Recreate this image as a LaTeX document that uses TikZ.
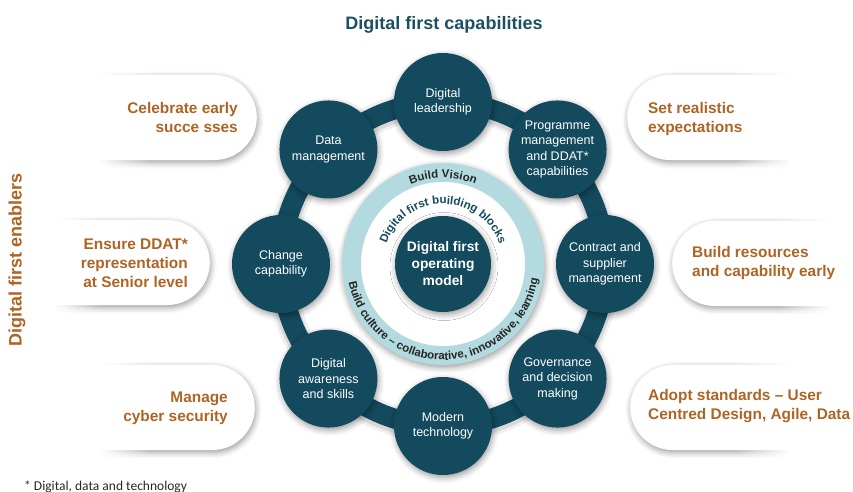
\documentclass[tikz,border=0pt]{standalone}
\usepackage{fontspec}
\setmainfont{Liberation Sans}
\newfontfamily\notefont{Carlito}
\usetikzlibrary{shapes.misc,shadows.blur,fadings,decorations.text}

\definecolor{petrol}{HTML}{134A5E}
\definecolor{mist}{HTML}{B3DADF}
\definecolor{amber}{HTML}{AE6424}
\definecolor{headblue}{HTML}{1C4F64}

\tikzset{
	soft/.style={blur shadow={shadow xshift=1pt, shadow yshift=-2.5pt, shadow blur radius=6pt, shadow opacity=40}},
	orb/.style={circle, fill=petrol, minimum size=98pt, inner sep=0pt, text=white, align=center, font=\fontsize{12.5}{15.5}\selectfont, soft},
	pillL/.style={rounded rectangle, rounded rectangle west arc=none, fill=white, minimum height=85pt, inner sep=0pt, soft},
	pillR/.style={rounded rectangle, rounded rectangle east arc=none, fill=white, minimum height=85pt, inner sep=0pt, soft},
	tip/.style={text=amber, font=\bfseries\fontsize{15.4}{19}\selectfont, inner sep=0pt},
	ringtext/.style 2 args={decorate, decoration={text along path, text align=center, text color=#1, text={|\bfseries\fontsize{11.5}{13}\selectfont|#2}}},
}

\begin{document}
\begin{tikzpicture}[x=1pt, y=1pt]
	\useasboundingbox (0,0) rectangle (853,-491);
	% white pills behind the enabler texts
	\node[pillL, minimum width=237pt, anchor=east] (celebrate) at (257,-117.5) {};
	\node[pillL, minimum width=200pt, anchor=east] (ensure) at (210,-262.5) {};
	\node[pillL, minimum width=235pt, anchor=east] (manage) at (255,-407.5) {};
	\node[pillR, minimum width=236pt, anchor=west] (realistic) at (627,-117.5) {};
	\node[pillR, minimum width=191pt, anchor=west] (resources) at (672,-263.5) {};
	\node[pillR, minimum width=233pt, anchor=west] (standards) at (630,-407.5) {};
	% let the far ends fade out
	\foreach \ya/\yb/\xa/\xb in {63/175/98/150, 208/320/55/100, 353/465/100/150} {
		\fill[white] (-10,-\ya) rectangle (\xa,-\yb);
		\fill[white, path fading=east] (\xa,-\ya) rectangle (\xb,-\yb);
	}
	\foreach \ya/\yb/\xa/\xb in {63/175/735/790, 208/320/780/830, 353/465/735/790} {
		\fill[white, path fading=west] (\xa,-\ya) rectangle (\xb,-\yb);
		\fill[white] (\xb,-\ya) rectangle (863,-\yb);
	}

	\coordinate (hub) at (443,-264);
	% band linking the capabilities
	\draw[black, opacity=.06, line width=30pt] ([yshift=-2pt]hub) circle[radius=162];
	\draw[black, opacity=.1, line width=24pt] ([yshift=-2pt]hub) circle[radius=162];
	\draw[petrol, line width=20pt] (hub) circle[radius=162];

	% building blocks ring
	\fill[mist, soft] (hub) circle[radius=101];
	\fill[white] (hub) circle[radius=82];
	\node[orb, minimum size=96pt, font=\bfseries\fontsize{13.8}{17}\selectfont] (core) at (hub) {Digital first\\operating\\model};

	\foreach \ang/\nm/\txt in {90/lead/{Digital\\leadership}, 45/prog/{Programme\\management\\and DDAT*\\capabilities}, 0/contract/{Contract and\\supplier\\management}, -45/gov/{Governance\\and decision\\making}, -90/modern/{Modern\\technology}, -135/aware/{Digital\\awareness\\and skills}, 180/change/{Change\\capability}, 135/data/{Data\\management}}
		\node[orb] (\nm) at ([shift={(\ang:162)}]hub) {\txt};

	% texts along the ring
	\path[ringtext={black!85}{Build Vision}] ([shift={(125:86)}]hub) arc[start angle=125, end angle=55, radius=86];
	\path[ringtext={petrol}{Digital first building blocks}] ([shift={(175:60)}]hub) arc[start angle=175, end angle=5, radius=60];
	\path[ringtext={black!85}{Build culture – collaborative, innovative, learning}] ([shift={(180:96)}]hub) arc[start angle=180, end angle=362, radius=96];

	\node[tip, anchor=east, align=right] (celebrate-t) at (238,-117) {Celebrate early\\succe sses};
	\node[tip, anchor=east, align=right] (ensure-t) at (188,-263) {Ensure DDAT*\\representation\\at Senior level};
	\node[tip, anchor=east, align=right] (manage-t) at (228,-408) {Manage\\cyber security};
	\node[tip, anchor=west, align=left] (realistic-t) at (648,-119) {Set realistic\\expectations};
	\node[tip, anchor=west, align=left] (resources-t) at (692,-263.5) {Build resources\\and capability early};
	\node[tip, anchor=west, align=left] (standards-t) at (648,-406.5) {Adopt standards – User\\Centred Design, Agile, Data};

	\node[font=\bfseries\fontsize{18}{22}\selectfont, text=headblue] (title) at (444,-25) {Digital first capabilities};
	\node[rotate=90, font=\bfseries\fontsize{18}{22}\selectfont, text=amber] (enablers) at (17,-260) {Digital first enablers};
	\node[anchor=base west, inner sep=0pt, font=\notefont\fontsize{13.5}{15}\selectfont, text=black!85] (note) at (24,-490) {* Digital, data and technology};
\end{tikzpicture}
\end{document}
